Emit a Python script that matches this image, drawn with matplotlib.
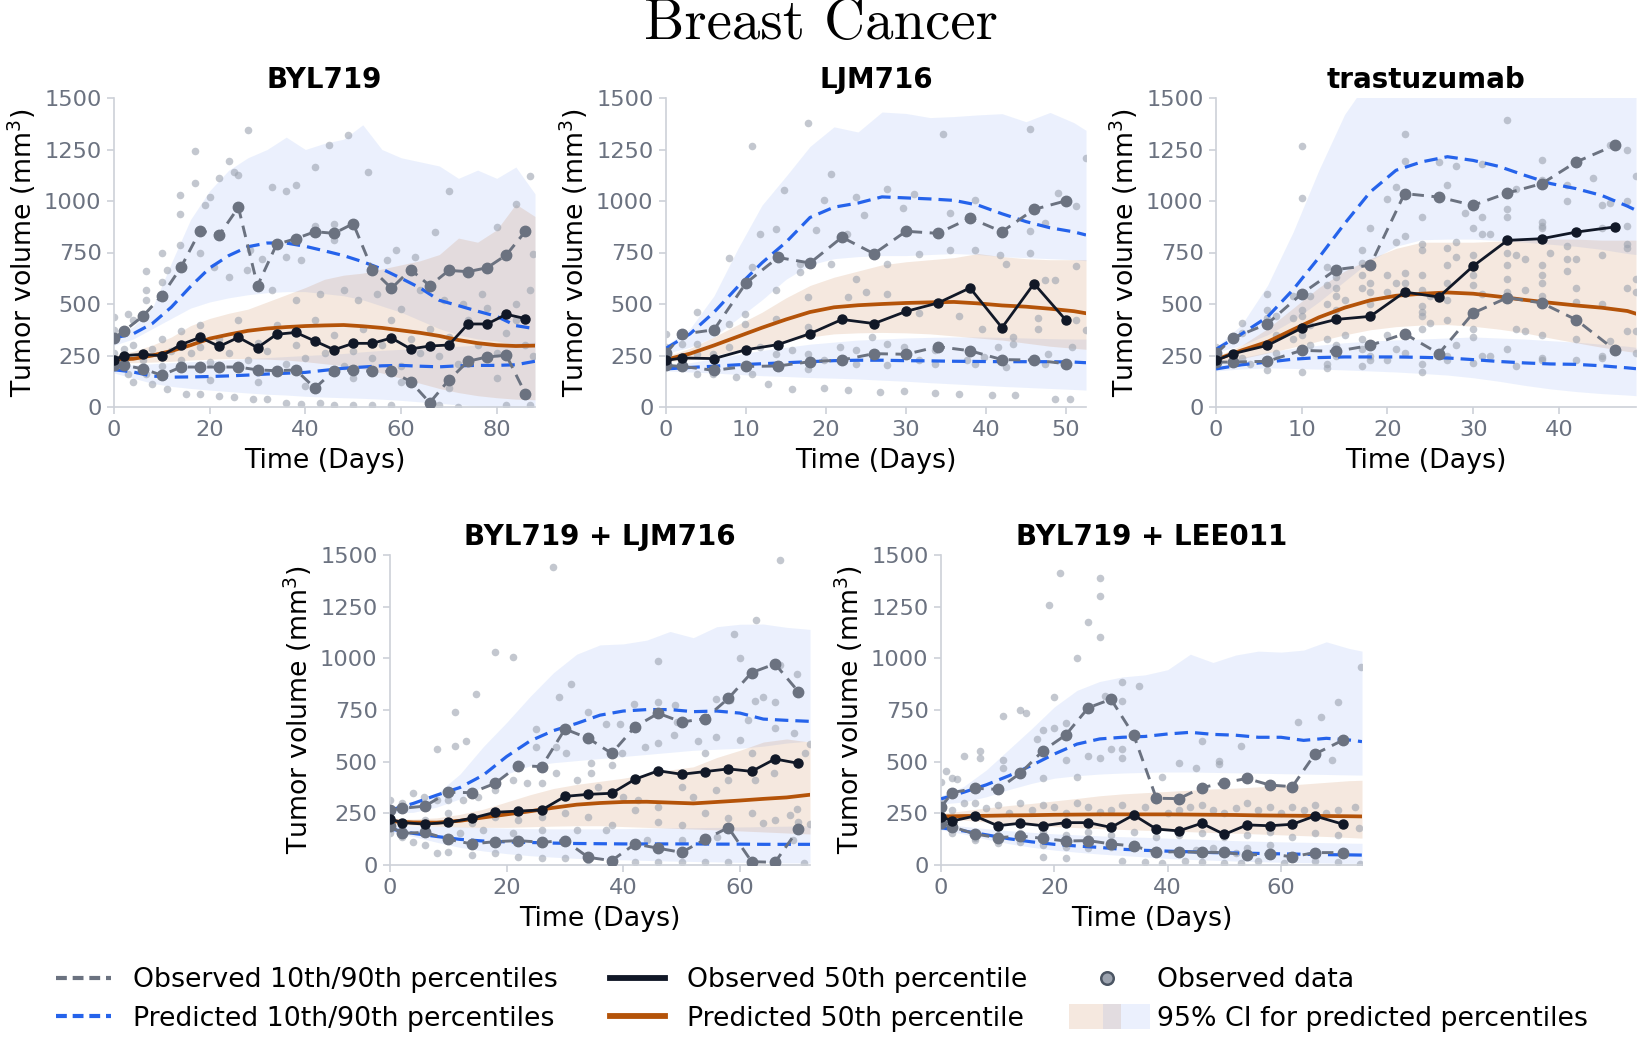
import numpy as np
import matplotlib
matplotlib.use("Agg")
import matplotlib.pyplot as plt
from matplotlib.lines import Line2D
from matplotlib.patches import Rectangle
from matplotlib.legend_handler import HandlerBase

plt.rcParams['font.family'] = ['DejaVu Sans']

# ---------------------------------------------------------------- data
panel_titles = ["BYL719", "LJM716", "trastuzumab", "BYL719 + LJM716", "BYL719 + LEE011"]
x_max = [88, 52.5, 49, 72, 74.3]
x_ticks = [[0, 20, 40, 60, 80], [0, 10, 20, 30, 40, 50], [0, 10, 20, 30, 40],
           [0, 20, 40, 60], [0, 20, 40, 60]]
y_ticks = [0, 250, 500, 750, 1000, 1250, 1500]

# ---- BYL719
byl_obs_t = [0, 2, 6, 10, 14, 18, 22, 26, 30, 34, 38, 42, 46, 50, 54, 58, 62, 66, 70, 74, 78, 82, 86]
byl_obs_p50 = [230, 249, 256, 249, 303, 338, 294, 338, 288, 353, 362, 320, 278, 309, 309, 335, 282, 296, 301, 403, 403, 450, 429]
byl_obs_p90 = [335, 367, 440, 540, 678, 856, 835, 969, 589, 790, 817, 851, 843, 890, 667, 576, 667, 589, 663, 657, 676, 738, 853]
byl_obs_p10 = [202, 202, 186, 154, 194, 194, 194, 194, 180, 176, 180, 92, 176, 180, 173, 173, 123, 21, 131, 222, 243, 251, 65]
byl_pred_t = [0, 4, 8, 12, 16, 20, 24, 28, 32, 36, 40, 44, 48, 52, 56, 60, 64, 68, 72, 76, 80, 84, 88]
byl_pred_p50 = [230, 234, 250, 272, 300, 332, 352, 370, 381, 388, 393, 396, 398, 392, 384, 372, 360, 345, 325, 310, 300, 296, 298]
byl_pred_p90 = [335, 355, 405, 485, 585, 675, 735, 778, 796, 796, 780, 758, 735, 705, 670, 625, 578, 518, 492, 465, 440, 395, 380]
byl_pred_p10 = [181, 170, 150, 145, 146, 148, 151, 155, 160, 164, 168, 178, 188, 194, 200, 202, 198, 195, 200, 202, 202, 205, 222]
byl_ci90_hi = [350, 390, 480, 700, 910, 1050, 1150, 1210, 1250, 1310, 1250, 1280, 1300, 1370, 1250, 1210, 1190, 1170, 1110, 1150, 1110, 1165, 1035]
byl_ci90_lo = [300, 330, 380, 430, 480, 510, 530, 545, 555, 560, 560, 550, 540, 520, 490, 460, 420, 380, 350, 330, 320, 300, 300]
byl_ci50_hi = [250, 270, 300, 340, 395, 430, 455, 475, 510, 545, 580, 620, 640, 650, 670, 690, 710, 740, 820, 800, 860, 985, 925]
byl_ci50_lo = [215, 215, 218, 222, 228, 232, 235, 235, 232, 228, 220, 210, 200, 185, 165, 140, 115, 90, 70, 55, 45, 38, 35]
byl_ci10_hi = [200, 205, 210, 215, 220, 225, 230, 235, 240, 245, 250, 255, 260, 268, 275, 280, 285, 290, 295, 300, 305, 310, 315]
byl_ci10_lo = [165, 140, 115, 100, 90, 82, 75, 68, 62, 58, 52, 48, 45, 42, 38, 32, 25, 18, 10, 5, 2, 0, 0]
byl_points = [
    (0, 437), (0, 372), (2, 372), (3, 450), (4, 420), (6.7, 660), (6.7, 570), (6.7, 521), (10, 748), (10, 607),
    (11, 663), (13.8, 1031), (13.8, 935), (13.8, 785), (17, 1089), (17, 1244), (19, 982), (20, 1021), (22, 1111),
    (24, 1192), (25, 1141), (26, 1124), (28, 1343), (33, 1066), (36, 1047), (38, 1079), (42, 1165), (45, 1270),
    (49, 1322), (53, 1141), (70, 1047), (84, 987), (87, 1120), (80, 874), (67, 849), (59, 760), (63, 728), (57, 712),
    (46, 890), (46, 809), (42, 878), (18, 748), (21, 680), (24, 631), (27.7, 663), (28.4, 760), (31, 720), (36, 728),
    (39, 712), (33, 566), (38, 518), (43, 550), (48, 566), (51, 518), (55, 550), (60, 477), (64, 566), (69, 518),
    (73, 502), (77, 550), (84, 502), (87, 566), (87.5, 744),
    (0, 227), (2, 194), (3, 162), (4, 121), (6.7, 162), (8, 113), (11, 89), (15, 65), (18, 61), (22, 52), (25, 49),
    (29, 37), (32, 37), (36, 21), (39, 16), (43, 21), (46, 8), (50, 8), (54, 8), (58, 8), (68, 8), (72, 0), (82, 8),
    (87, 8),
    (0, 200), (0, 260), (2, 280), (4, 300), (6, 230), (8, 280), (10, 200), (10, 330), (12, 270), (14, 230), (14, 370),
    (16, 260), (18, 290), (18, 400), (20, 220), (22, 330), (24, 260), (26, 420), (28, 230), (30, 310), (32, 270),
    (34, 400), (36, 210), (38, 300), (40, 240), (42, 420), (44, 260), (46, 350), (48, 200), (50, 270), (52, 380),
    (54, 240), (56, 300), (58, 420), (60, 200), (62, 330), (64, 260), (66, 380), (68, 250), (70, 340), (72, 210),
    (74, 420), (76, 300), (78, 480), (80, 260), (82, 360), (84, 420), (86, 300), (87.5, 250),
    (10, 150), (20, 130), (30, 120), (40, 100), (50, 140), (60, 120), (70, 90), (80, 140)]

# ---- LJM716
ljm_obs_t = [0, 2, 6, 10, 14, 18, 22, 26, 30, 34, 38, 42, 46, 50]
ljm_obs_p50 = [226, 238, 235, 278, 303, 356, 425, 405, 464, 505, 578, 385, 599, 421]
ljm_obs_p90 = [260, 353, 375, 602, 726, 699, 824, 744, 853, 843, 917, 851, 959, 1001]
ljm_obs_p10 = [202, 197, 178, 197, 199, 220, 228, 259, 256, 293, 273, 230, 228, 210]
ljm_pred_t = [0, 3, 6, 9, 12, 15, 18, 21, 24, 27, 30, 33, 36, 39, 42, 45, 48, 51, 52.5]
ljm_pred_p50 = [230, 259, 299, 342, 385, 425, 461, 484, 494, 500, 505, 508, 510, 503, 493, 487, 477, 465, 455]
ljm_pred_p90 = [285, 355, 460, 585, 700, 800, 920, 970, 990, 1020, 1015, 1010, 1003, 980, 938, 900, 870, 850, 835]
ljm_pred_p10 = [185, 192, 198, 205, 210, 215, 220, 225, 227, 227, 225, 224, 222, 221, 220, 220, 220, 218, 215]
ljm_ci90_hi = [300, 380, 540, 770, 980, 1120, 1265, 1360, 1335, 1432, 1425, 1405, 1410, 1418, 1424, 1385, 1430, 1380, 1343]
ljm_ci90_lo = [260, 290, 340, 430, 520, 620, 690, 720, 730, 735, 735, 740, 745, 740, 730, 725, 720, 715, 710]
ljm_ci50_hi = [245, 285, 340, 400, 460, 530, 590, 630, 660, 690, 705, 715, 725, 745, 730, 720, 715, 715, 715]
ljm_ci50_lo = [220, 230, 250, 275, 300, 320, 340, 355, 360, 362, 360, 355, 345, 335, 325, 310, 295, 285, 280]
ljm_ci10_hi = [200, 215, 235, 255, 275, 290, 305, 315, 325, 330, 335, 338, 340, 340, 338, 335, 332, 330, 330]
ljm_ci10_lo = [175, 170, 165, 158, 152, 148, 143, 140, 136, 130, 125, 118, 112, 106, 100, 95, 90, 85, 82]
ljm_points = [
    (17.8, 1378), (10.8, 1265), (34.6, 1323), (45.5, 1351), (52.5, 1209), (20.6, 1129), (14.8, 1055), (19.7, 1003),
    (23.7, 1019), (27.6, 1060), (31, 1035), (35.5, 942), (38.6, 1003), (49, 1039), (51.3, 976), (47.4, 893),
    (45.5, 853), (29.6, 966), (24.7, 930), (22.6, 841), (11.8, 841), (13.8, 866), (18.7, 858), (7.9, 725),
    (10.8, 680), (16.8, 654), (16.7, 696), (20.6, 696), (27.6, 692), (31.6, 744), (35.5, 760), (38.6, 760),
    (45.5, 748), (42.5, 696), (41.7, 736), (51.3, 683), (47.4, 618), (48.6, 615), (51.3, 421), (52.5, 375),
    (46.5, 430), (46.5, 380), (43.4, 340), (39.5, 380), (36.6, 440), (31.6, 456), (27.6, 550), (25, 558),
    (23.7, 623), (22.8, 534), (17.8, 534), (17.8, 388), (13.8, 566), (13.8, 429), (9.9, 404), (9.9, 453),
    (7.9, 404), (3.9, 461), (3.9, 307), (2, 307), (0, 356), (0, 291), (3.9, 259), (5.9, 259), (7.9, 291),
    (11.8, 291), (13.8, 259), (15.8, 275), (17.8, 259), (19.7, 227), (21.7, 291), (23.7, 275), (25.7, 340),
    (27.6, 307), (29.7, 291), (31.6, 227), (33.6, 275), (37.6, 227), (39.8, 243), (41.5, 291), (43.4, 307),
    (47.8, 259), (50.7, 291),
    (3.9, 162), (5.9, 162), (8.8, 146), (10.8, 162), (12.8, 110), (15.8, 89), (19.7, 92), (22.8, 81), (26.8, 73),
    (29.7, 76), (33.6, 70), (36.6, 65), (40.7, 57), (43.6, 57), (48.6, 37), (50.5, 37), (13.8, 194), (17.8, 186),
    (23.7, 210), (27.6, 202), (33.6, 210), (38.6, 210), (42.5, 194), (47.4, 210)]

# ---- trastuzumab
tra_obs_t = [0, 2, 6, 10, 14, 18, 22, 26, 30, 34, 38, 42, 46.5]
tra_obs_p50 = [226, 259, 299, 383, 425, 440, 558, 534, 684, 809, 817, 849, 874]
tra_obs_p90 = [260, 335, 404, 550, 667, 688, 1036, 1019, 979, 1039, 1084, 1189, 1270]
tra_obs_p10 = [218, 218, 222, 275, 270, 299, 356, 259, 456, 531, 505, 424, 278]
tra_pred_t = [0, 3, 6, 9, 12, 15, 18, 21, 24, 27, 30, 33, 36, 39, 42, 45, 48, 49]
tra_pred_p50 = [230, 275, 316, 376, 435, 482, 518, 540, 550, 556, 550, 536, 520, 506, 493, 482, 466, 453]
tra_pred_p90 = [280, 355, 437, 570, 725, 890, 1044, 1149, 1190, 1215, 1197, 1168, 1125, 1085, 1060, 1027, 975, 955]
tra_pred_p10 = [185, 205, 218, 232, 240, 243, 243, 243, 241, 238, 230, 221, 214, 209, 207, 200, 190, 186]
tra_ci90_hi = [290, 400, 590, 850, 1150, 1420, 1600, 1650, 1650, 1650, 1650, 1650, 1650, 1650, 1650, 1650, 1650, 1650]
tra_ci90_lo = [265, 300, 350, 420, 510, 610, 710, 780, 812, 815, 815, 808, 800, 790, 780, 765, 745, 740]
tra_ci50_hi = [245, 300, 380, 480, 580, 660, 720, 770, 800, 800, 800, 805, 810, 815, 815, 810, 810, 810]
tra_ci50_lo = [215, 235, 262, 290, 320, 350, 375, 390, 398, 400, 392, 378, 360, 335, 312, 290, 270, 265]
tra_ci10_hi = [205, 240, 265, 285, 300, 312, 320, 326, 330, 335, 340, 335, 330, 322, 315, 305, 295, 290]
tra_ci10_lo = [175, 185, 190, 187, 184, 180, 175, 170, 163, 155, 142, 125, 105, 88, 75, 65, 58, 55]
tra_points = [
    (10, 1265), (10, 1013), (22, 1325), (34, 1395), (38, 1200), (42, 1200), (46, 1270), (48, 1250), (49, 1120),
    (42, 1180), (26, 1190), (22, 1195), (28, 1170), (27, 1080), (31, 1180), (35, 1060), (38, 1100), (41, 1080),
    (44, 1110), (46, 990), (48, 1000), (31, 920), (29, 940), (24, 920), (20, 1010), (18, 870), (21, 1070), (34, 960),
    (38, 900), (38, 880), (41, 1000), (45, 980), (48, 880), (34, 920), (30, 870), (31, 840), (38, 870),
    (45, 870), (41, 780), (48, 790), (48, 770), (42, 720), (38, 690), (34, 690), (36, 720), (30, 740), (28, 800),
    (27, 770), (24, 790), (24, 760), (21, 800), (22, 830), (20, 640), (18, 600), (17, 760), (17, 700), (13, 680),
    (14, 630), (13, 590), (11, 540), (10, 470), (9, 540), (7, 440), (6, 550), (6, 430), (3, 410), (2, 330), (0, 250),
    (0, 290), (3, 360), (6, 470), (7, 350), (9, 430), (10, 440), (11, 400), (13, 500), (14, 580), (14, 540), (14, 470),
    (15, 520), (17, 640), (17, 580), (18, 560), (18, 500), (20, 560), (21, 600), (22, 650), (22, 600), (24, 640),
    (24, 570), (24, 490), (25, 540), (27, 690), (27, 600), (27, 520), (28, 730), (30, 640), (30, 590), (31, 550),
    (32, 840), (34, 750), (34, 620), (34, 560), (35, 740), (36, 570), (38, 640), (38, 600), (38, 540), (38, 500),
    (39, 750), (41, 720), (41, 660), (42, 580), (42, 510), (45, 740), (45, 500), (49, 620), (49, 560), (48, 370),
    (48, 580), (6, 300), (7, 260), (9, 330), (10, 350), (11, 300), (13, 330), (14, 300), (14, 250), (15, 350),
    (17, 330), (17, 280), (18, 250), (20, 350), (21, 280), (22, 260), (24, 380), (24, 440), (24, 460), (25, 410),
    (27, 420), (27, 250), (28, 300), (30, 380), (30, 340), (31, 250), (32, 250), (34, 280), (35, 380), (36, 370),
    (38, 350), (38, 240), (42, 330), (42, 230), (45, 240), (46, 320), (49, 260), (49, 370), (0, 210), (2, 220),
    (3, 240), (4, 210), (6, 180), (10, 170), (13, 190), (13, 210), (17, 200), (18, 230), (20, 230), (24, 170),
    (24, 210), (27, 230), (30, 215), (35, 200), (38, 230), (45, 250)]

# ---- BYL719 + LJM716
bl_obs_t = [0, 2, 6, 10, 14, 18, 22, 26, 30, 34, 38, 42, 46, 50, 54, 58, 62, 66, 70]
bl_obs_p50 = [223, 205, 198, 206, 226, 255, 261, 266, 332, 342, 347, 415, 456, 439, 452, 465, 453, 513, 492]
bl_obs_p90 = [265, 274, 285, 352, 350, 395, 481, 476, 658, 613, 540, 669, 734, 692, 708, 806, 931, 973, 839]
bl_obs_p10 = [190, 153, 158, 124, 102, 113, 118, 110, 118, 37, 21, 102, 81, 61, 124, 181, 16, 13, 173]
bl_pred_t = [0, 4, 8, 12, 16, 20, 24, 28, 32, 36, 40, 44, 48, 52, 56, 60, 64, 68, 72]
bl_pred_p50 = [212, 206, 205, 214, 230, 245, 260, 277, 292, 300, 305, 306, 302, 298, 305, 312, 320, 327, 340]
bl_pred_p90 = [265, 298, 338, 375, 435, 525, 600, 650, 685, 725, 745, 752, 752, 742, 745, 735, 706, 700, 695]
bl_pred_p10 = [175, 153, 138, 124, 116, 112, 109, 106, 104, 103, 102, 102, 102, 102, 101, 101, 100, 100, 100]
bl_ci90_hi = [280, 300, 345, 440, 573, 690, 815, 930, 1020, 1065, 1070, 1088, 1130, 1100, 1153, 1165, 1166, 1150, 1140]
bl_ci90_lo = [250, 255, 280, 320, 380, 440, 480, 495, 505, 515, 525, 535, 545, 555, 560, 565, 575, 590, 600]
bl_ci50_hi = [222, 222, 228, 245, 270, 305, 340, 370, 390, 405, 420, 440, 460, 475, 520, 555, 595, 610, 595]
bl_ci50_lo = [198, 192, 188, 184, 182, 182, 185, 188, 190, 190, 186, 182, 178, 174, 170, 165, 160, 155, 150]
bl_ci10_hi = [192, 190, 188, 185, 182, 178, 176, 175, 175, 175, 176, 178, 180, 181, 182, 184, 186, 188, 190]
bl_ci10_lo = [160, 138, 110, 85, 68, 55, 45, 38, 32, 28, 25, 22, 19, 17, 15, 13, 12, 10, 10]
bl_points = [
    (28, 1440), (66.9, 1476), (18, 1032), (21, 1008), (14.7, 827), (11.1, 739), (13, 602), (11.1, 577), (8, 560),
    (31, 874), (46, 987), (60, 1003), (62.7, 1185), (59, 1116), (66.9, 968), (69.8, 924), (64, 814), (61.4, 702),
    (58.3, 798), (55.9, 803), (66, 790), (66, 661), (62.6, 793), (48.9, 774), (46, 790), (41.9, 779), (39.4, 682),
    (37, 681), (33.9, 742), (29, 814), (25, 656), (25, 573), (28.4, 573), (30.2, 540), (34.5, 492), (38, 484),
    (39.7, 540), (43.7, 573), (46, 589), (48.6, 629), (49.2, 690), (52.8, 602), (54, 540), (55.9, 621), (60, 605),
    (62, 540), (69.3, 637), (71.2, 540), (72, 585), (69.8, 273), (72, 197), (68.6, 242), (65.8, 444), (62.5, 411),
    (57.9, 411), (55.9, 363), (52, 331), (50, 379), (46, 282), (42.5, 315), (40, 331), (35.7, 379), (34.5, 444),
    (32, 411), (28.4, 444), (26, 395), (23.5, 395), (21, 411), (18, 363), (15, 331), (12.5, 315), (10, 315),
    (8, 315), (5.8, 331), (4, 347), (2.1, 298), (0, 315),
    (71, 8), (66, 16), (62, 16), (58, 16), (54, 16), (50, 16), (46, 16), (42, 16), (38, 16), (34, 24), (30, 32),
    (26, 32), (22, 40), (18, 56), (14, 48), (10, 65), (8, 60), (6, 97), (4, 113), (2, 137), (0, 153),
    (70, 210), (66, 218), (62, 250), (58, 226), (54, 250), (50, 194), (46, 210), (42, 266), (38, 194), (34, 234),
    (30, 250), (26, 234), (22, 218), (18, 234), (14, 202), (10, 250), (6, 218), (2, 185), (0, 226), (56, 137),
    (50, 121), (44, 121), (37, 169), (32, 169), (26, 169), (21, 153), (16, 169), (12, 153), (64, 202), (69, 121)]

# ---- BYL719 + LEE011
le_obs_t = [0, 2, 6, 10, 14, 18, 22, 26, 30, 34, 38, 42, 46, 50, 54, 58, 62, 66, 71]
le_obs_p50 = [234, 213, 237, 190, 202, 190, 205, 205, 182, 242, 174, 165, 202, 148, 194, 190, 197, 237, 197]
le_obs_p90 = [280, 350, 371, 366, 444, 553, 629, 761, 802, 629, 323, 321, 374, 398, 419, 387, 379, 537, 605]
le_obs_p10 = [202, 185, 150, 132, 140, 129, 116, 118, 102, 92, 61, 65, 61, 61, 48, 53, 40, 60, 60]
le_pred_t = [0, 4, 8, 12, 16, 20, 24, 28, 32, 36, 40, 44, 48, 52, 56, 60, 64, 68, 72, 74.3]
le_pred_p50 = [235, 237, 238, 240, 241, 243, 244, 245, 245, 245, 245, 244, 243, 242, 240, 239, 238, 237, 236, 235]
le_pred_p90 = [320, 352, 388, 432, 482, 537, 585, 610, 618, 622, 634, 642, 632, 628, 618, 618, 603, 613, 605, 597]
le_pred_p10 = [180, 165, 146, 127, 112, 100, 92, 85, 76, 71, 67, 64, 60, 58, 56, 54, 52, 50, 49, 48]
le_ci90_hi = [335, 380, 460, 560, 660, 765, 845, 888, 910, 920, 945, 1020, 980, 1016, 1035, 1030, 1040, 1080, 1048, 1035]
le_ci90_lo = [295, 305, 330, 365, 395, 420, 432, 440, 445, 448, 450, 450, 448, 446, 444, 442, 440, 438, 436, 435]
le_ci50_hi = [250, 262, 276, 288, 298, 310, 322, 335, 344, 350, 356, 362, 368, 372, 378, 384, 392, 400, 408, 410]
le_ci50_lo = [225, 217, 208, 200, 193, 186, 181, 176, 172, 168, 165, 161, 157, 154, 150, 146, 142, 138, 133, 130]
le_ci10_hi = [195, 187, 176, 166, 158, 151, 146, 141, 137, 134, 130, 126, 122, 118, 115, 112, 110, 108, 106, 105]
le_ci10_lo = [170, 150, 125, 103, 86, 72, 62, 53, 46, 39, 32, 27, 23, 19, 16, 13, 11, 9, 8, 8]
le_points = [
    (21, 1411), (28, 1387), (28, 1302), (19, 1258), (26, 1177), (28, 1105), (24, 1003), (20, 814), (28.9, 818),
    (32, 887), (32, 794), (35, 868), (74.2, 960), (70, 790), (67, 718), (63, 694), (69, 508), (46, 602),
    (52.9, 576), (49, 505), (49, 487), (45, 468), (42, 495), (39, 427), (32, 560), (32, 516), (30, 560), (28, 516),
    (26, 529), (24, 427), (22, 508), (22, 685), (20, 661), (18, 653), (18, 419), (16.9, 608), (15, 734), (14, 750),
    (10.9, 721), (10.9, 508), (10.9, 468), (6.8, 553), (6.8, 516), (4, 529), (0.8, 456), (2, 423), (2.8, 414),
    (0, 403),
    (0, 315), (2, 266), (4, 298), (6, 298), (8, 274), (10, 290), (12, 250), (14, 298), (16, 266), (18, 290),
    (20, 282), (22, 250), (24, 298), (26, 282), (28, 258), (30, 266), (32, 290), (34, 250), (36, 282), (38, 315),
    (40, 250), (42, 266), (44, 282), (46, 290), (48, 266), (50, 250), (52, 274), (54, 298), (56, 266), (58, 282),
    (60, 250), (62, 282), (64, 266), (66, 290), (68, 250), (70, 266), (73, 282),
    (2, 153), (6, 121), (10, 145), (14, 153), (18, 161), (22, 145), (26, 161), (30, 145), (34, 161), (38, 137),
    (42, 145), (46, 153), (50, 137), (54, 145), (58, 161), (62, 137), (66, 153), (70, 145), (73.8, 177),
    (18, 40), (22, 32), (32, 21), (36, 13), (39, 8), (43, 21), (46, 13), (50, 8), (53, 8), (56, 21), (60.6, 8),
    (66, 21), (70, 13), (74, 3), (58, 97), (54, 81), (52, 56), (48, 81), (45, 73), (42, 68), (38, 73), (34, 97),
    (30, 89), (26, 81), (22, 89), (18, 97), (14, 113), (10, 105), (6, 129)]

panels = [
    dict(obs_t=byl_obs_t, o50=byl_obs_p50, o90=byl_obs_p90, o10=byl_obs_p10, pt=byl_pred_t, p50=byl_pred_p50,
         p90=byl_pred_p90, p10=byl_pred_p10, c90h=byl_ci90_hi, c90l=byl_ci90_lo, c50h=byl_ci50_hi,
         c50l=byl_ci50_lo, c10h=byl_ci10_hi, c10l=byl_ci10_lo, pts=byl_points),
    dict(obs_t=ljm_obs_t, o50=ljm_obs_p50, o90=ljm_obs_p90, o10=ljm_obs_p10, pt=ljm_pred_t, p50=ljm_pred_p50,
         p90=ljm_pred_p90, p10=ljm_pred_p10, c90h=ljm_ci90_hi, c90l=ljm_ci90_lo, c50h=ljm_ci50_hi,
         c50l=ljm_ci50_lo, c10h=ljm_ci10_hi, c10l=ljm_ci10_lo, pts=ljm_points),
    dict(obs_t=tra_obs_t, o50=tra_obs_p50, o90=tra_obs_p90, o10=tra_obs_p10, pt=tra_pred_t, p50=tra_pred_p50,
         p90=tra_pred_p90, p10=tra_pred_p10, c90h=tra_ci90_hi, c90l=tra_ci90_lo, c50h=tra_ci50_hi,
         c50l=tra_ci50_lo, c10h=tra_ci10_hi, c10l=tra_ci10_lo, pts=tra_points),
    dict(obs_t=bl_obs_t, o50=bl_obs_p50, o90=bl_obs_p90, o10=bl_obs_p10, pt=bl_pred_t, p50=bl_pred_p50,
         p90=bl_pred_p90, p10=bl_pred_p10, c90h=bl_ci90_hi, c90l=bl_ci90_lo, c50h=bl_ci50_hi,
         c50l=bl_ci50_lo, c10h=bl_ci10_hi, c10l=bl_ci10_lo, pts=bl_points),
    dict(obs_t=le_obs_t, o50=le_obs_p50, o90=le_obs_p90, o10=le_obs_p10, pt=le_pred_t, p50=le_pred_p50,
         p90=le_pred_p90, p10=le_pred_p10, c90h=le_ci90_hi, c90l=le_ci90_lo, c50h=le_ci50_hi,
         c50l=le_ci50_lo, c10h=le_ci10_hi, c10l=le_ci10_lo, pts=le_points),
]

# ---------------------------------------------------------------- style
BLUE = '#2563eb'
ORANGE = '#b45309'
GRAY = '#6b7280'
DARK = '#111827'
DOT = '#9ca3af'
TICKC = '#6b7280'
SPINE = '#cdd1d8'
BAND_A_BLUE = 0.09
BAND_A_OR = 0.13

W, H = 1642, 1049
fig = plt.figure(figsize=(W / 100, H / 100), dpi=100)

# axes boxes in pixels: left, top, right, bottom
boxes = [(114, 98, 535, 407), (666, 98, 1086, 407), (1216, 98, 1636, 407),
         (390, 555, 810, 865), (941, 555, 1362, 865)]

for i, (d, box) in enumerate(zip(panels, boxes)):
    l, t, r, b = box
    ax = fig.add_axes([l / W, 1 - b / H, (r - l) / W, (b - t) / H])
    pt = np.array(d['pt'])
    ax.fill_between(pt, d['c10l'], d['c10h'], color=BLUE, alpha=BAND_A_BLUE, lw=0, zorder=1)
    ax.fill_between(pt, d['c90l'], d['c90h'], color=BLUE, alpha=BAND_A_BLUE, lw=0, zorder=1)
    ax.fill_between(pt, d['c50l'], d['c50h'], color=ORANGE, alpha=BAND_A_OR, lw=0, zorder=1)
    pts = np.array(d['pts'])
    ax.scatter(pts[:, 0], pts[:, 1], s=30, color=DOT, alpha=0.6, lw=0, zorder=2)
    ax.plot(pt, d['p10'], color=BLUE, lw=2.3, dashes=(4.2, 2.2), zorder=3)
    ax.plot(pt, d['p90'], color=BLUE, lw=2.3, dashes=(4.2, 2.2), zorder=3)
    ax.plot(pt, d['p50'], color=ORANGE, lw=2.7, zorder=3)
    ax.plot(d['obs_t'], d['o10'], color=GRAY, lw=2.1, dashes=(4, 2.6), marker='o', ms=7.5, zorder=4)
    ax.plot(d['obs_t'], d['o90'], color=GRAY, lw=2.1, dashes=(4, 2.6), marker='o', ms=7.5, zorder=4)
    ax.plot(d['obs_t'], d['o50'], color=DARK, lw=2.0, marker='o', ms=6.5, zorder=5)

    ax.set_xlim(0, x_max[i])
    ax.set_ylim(0, 1500)
    ax.set_xticks(x_ticks[i])
    ax.set_yticks(y_ticks)
    for s in ['top', 'right']:
        ax.spines[s].set_visible(False)
    for s in ['left', 'bottom']:
        ax.spines[s].set_color(SPINE)
        ax.spines[s].set_linewidth(1.2)
    ax.tick_params(axis='both', labelsize=16.2, colors=SPINE, labelcolor=TICKC, length=5, width=1.2, pad=4)
    ax.set_xlabel('Time (Days)', fontsize=19.3, labelpad=6)
    ax.set_ylabel('Tumor volume (mm$^3$)', fontsize=19.3, labelpad=4)
    ax.set_title(panel_titles[i], fontsize=20, fontweight='bold', pad=7)

fig.text(0.5, 1 - 39 / H, 'Breast Cancer', fontfamily='cmr10', fontsize=41,
         ha='center', va='baseline')


# ---------------------------------------------------------------- legend
class CIHandler(HandlerBase):
    def create_artists(self, legend, orig_handle, xdescent, ydescent, width, height, fontsize, trans):
        h = 0.95 * fontsize
        y0 = -ydescent + height / 2 - h / 2
        x0 = -xdescent
        r1 = Rectangle((x0 - 0.4 * fontsize, y0), 1.96 * fontsize, h, facecolor=ORANGE,
                       alpha=BAND_A_OR, lw=0, transform=trans)
        r2 = Rectangle((x0 + 0.88 * fontsize, y0), 1.76 * fontsize, h, facecolor=BLUE,
                       alpha=BAND_A_BLUE, lw=0, transform=trans)
        return [r1, r2]


class CIKey:
    pass


handles = [
    Line2D([], [], color=GRAY, lw=3.0, dashes=(2.6, 1.4)),
    Line2D([], [], color=BLUE, lw=3.0, dashes=(2.6, 1.4)),
    Line2D([], [], color=DARK, lw=4.2),
    Line2D([], [], color=ORANGE, lw=4.2),
    Line2D([], [], ls='none', marker='o', ms=9, markerfacecolor=DOT, markeredgecolor='#4b5563', mew=1.8),
    CIKey(),
]
labels = ['Observed 10th/90th percentiles', 'Predicted 10th/90th percentiles',
          'Observed 50th percentile', 'Predicted 50th percentile',
          'Observed data', '95% CI for predicted percentiles']
fig.legend(handles, labels, loc='center', bbox_to_anchor=(0.5005, 1 - 999.5 / H), ncol=3,
           fontsize=19.3, frameon=False, handlelength=2.05, handletextpad=0.82,
           columnspacing=1.95, labelspacing=0.47, handler_map={CIKey: CIHandler()})

fig.savefig('out.png', dpi=100)
